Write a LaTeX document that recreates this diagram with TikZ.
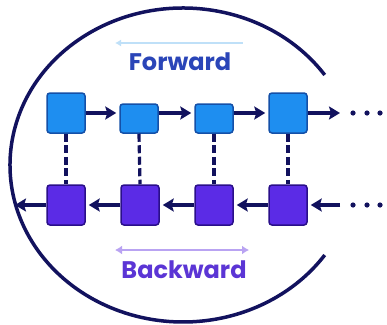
\documentclass[tikz,border=0pt]{standalone}
\usepackage{fontspec}
\newfontfamily\pop{Poppins}
\usetikzlibrary{arrows.meta}
\definecolor{navy}{HTML}{12125E}
\definecolor{topfill}{HTML}{1E8EF0}
\definecolor{topdraw}{HTML}{1450A8}
\definecolor{botfill}{HTML}{5B2BE6}
\definecolor{botdraw}{HTML}{2A0F8A}
\definecolor{fwdtext}{HTML}{2A45B8}
\definecolor{bwdtext}{HTML}{5B35D5}
\definecolor{fwdline}{HTML}{BFE0F8}
\definecolor{bwdline}{HTML}{B9A3F2}
\tikzset{
  topbox/.style={draw=topdraw, fill=topfill, line width=1.5pt, rounded corners=3pt, minimum width=38pt, minimum height=40pt, inner sep=0pt},
  botbox/.style={draw=botdraw, fill=botfill, line width=1.5pt, rounded corners=3pt, minimum width=38pt, minimum height=40pt, inner sep=0pt},
  arr/.style={draw=navy, line width=3.4pt, -{Stealth[length=11pt,width=13pt,inset=2pt]}, shorten >=3pt},
  link/.style={draw=navy, line width=3.2pt, dash pattern=on 8pt off 3.5pt},
  dotmark/.style={fill=navy},
  lbl/.style={font=\pop\bfseries\fontsize{24}{28}\selectfont, inner sep=0pt}
}
\begin{document}
\begin{tikzpicture}[x=1pt,y=-1pt]
\useasboundingbox[fill=white] (0,0) rectangle (387,324);
% big arc
\draw[navy, line width=3.5pt] (183,165) ++(-35:173 and 157) arc[start angle=-35, end angle=-325, x radius=173, y radius=157];
% labels
\draw[fwdline, line width=2.5pt, {Latex[length=6pt,width=7pt]}-] (115,43) -- (243,43);
\node[lbl, text=fwdtext] (fwd) at (180,62) {Forward};
\draw[bwdline, line width=2.5pt, {Latex[length=7pt,width=9pt]}-{Latex[length=7pt,width=9pt]}] (115,250) -- (249,250);
\node[lbl, text=bwdtext] (bwd) at (184,270) {Backward};
% top row
\node[topbox] (t1) at (66,113) {};
\node[topbox, minimum height=29pt] (t2) at (139,118.5) {};
\node[topbox, minimum height=29pt] (t3) at (214,118.5) {};
\node[topbox] (t4) at (288,113) {};
% bottom row
\node[botbox] (b1) at (66,205) {};
\node[botbox] (b2) at (140,205) {};
\node[botbox] (b3) at (214,205) {};
\node[botbox] (b4) at (288,205) {};
\coordinate (tend) at (340,113);
\coordinate (bstart) at (340,205);
\coordinate (bend) at (15,205);
% forward arrows
\draw[arr] (t1.east |- 0,113) -- (t2.west |- 0,113);
\draw[arr] (t2.east |- 0,113) -- (t3.west |- 0,113);
\draw[arr] (t3.east |- 0,113) -- (t4.west);
\draw[arr, shorten >=0pt] (t4.east) -- (tend);
% backward arrows
\draw[arr] (bstart) -- (b4.east);
\draw[arr] (b4.west) -- (b3.east);
\draw[arr] (b3.west) -- (b2.east);
\draw[arr] (b2.west) -- (b1.east);
\draw[arr, shorten >=0pt] (b1.west) -- (bend);
% dashed links
\draw[link] (t1.south) -- (b1.north);
\draw[link] (t2.south) -- (b2.north);
\draw[link] (t3.south) -- (b3.north);
\draw[link] (t4.south) -- (b4.north);
% dots
\foreach \x in {353,367,380} {
  \fill[dotmark] (\x,113) circle (2.6pt);
  \fill[dotmark] (\x,205) circle (2.6pt);
}
\end{tikzpicture}
\end{document}
